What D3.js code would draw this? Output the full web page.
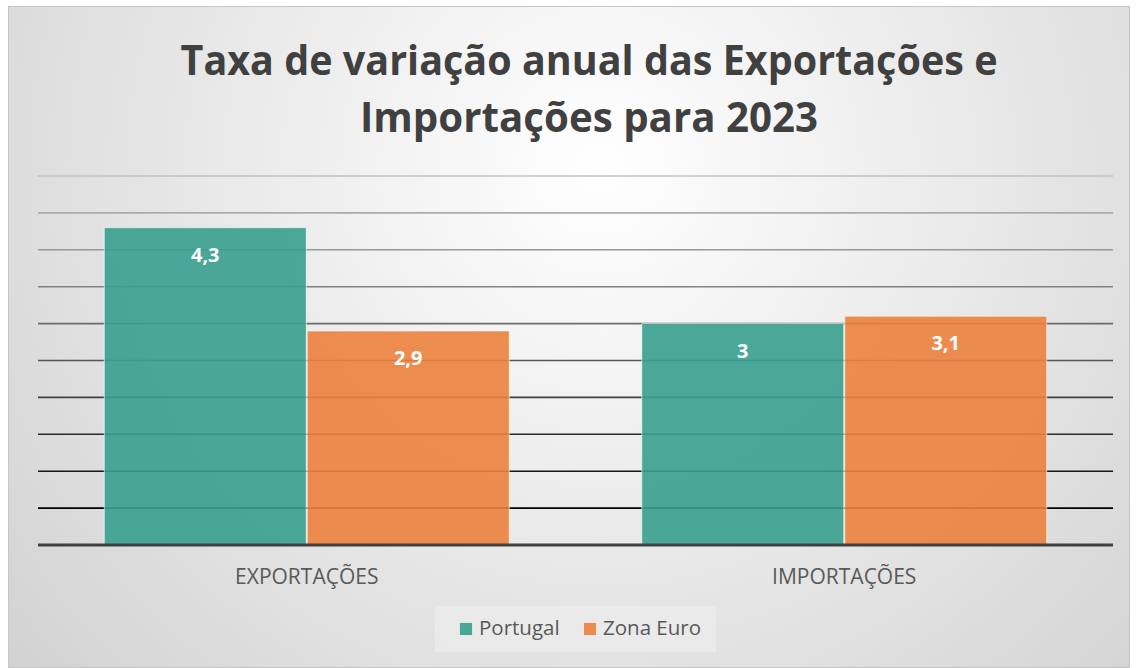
<!DOCTYPE html>
<html><head><meta charset="utf-8">
<script src="https://cdn.jsdelivr.net/npm/d3@7"></script>
<style>html,body{margin:0;padding:0;background:#fff;}svg{display:block;}</style>
</head><body>
<script>
const categories = ["EXPORTAÇÕES", "IMPORTAÇÕES"];
const seriesNames = ["Portugal", "Zona Euro"];
const portugal = [4.3, 3.0];
const zonaEuro = [2.9, 3.1];
const yTicks = [0, 0.5, 1, 1.5, 2, 2.5, 3, 3.5, 4, 4.5, 5];
const titleLines = ["Taxa de variação anual das Exportações e", "Importações para 2023"];
const colors = ["#399e8e", "#eb823d"];

const W = 1136, H = 668;
const svg = d3.select("body").append("svg").attr("width", W).attr("height", H);
const defs = svg.append("defs");
const rg = defs.append("radialGradient").attr("id", "bg")
  .attr("gradientUnits", "userSpaceOnUse").attr("cx", 600).attr("cy", 170).attr("r", 760);
rg.append("stop").attr("offset", 0).attr("stop-color", "#ffffff");
rg.append("stop").attr("offset", 1).attr("stop-color", "#d3d3d3");

svg.append("rect").attr("x", 8.5).attr("y", 6.5).attr("width", 1121).attr("height", 661)
  .attr("fill", "url(#bg)").attr("stroke", "#c6c6c6").attr("stroke-width", 1);

const titleWidths = [817, 458];
const tg = svg.append("g").attr("font-family", "Open Sans, sans-serif").attr("font-weight", "bold")
  .attr("fill", "#404040").attr("text-anchor", "middle").attr("font-size", 42);
tg.selectAll("text").data(titleLines).join("text")
  .attr("x", 589).attr("y", (d, i) => 75 + i * 57)
  .attr("textLength", (d, i) => titleWidths[i]).attr("lengthAdjust", "spacingAndGlyphs")
  .text(d => d);

const plot = {l: 38, r: 1113, t: 176, b: 545};
const y = d3.scaleLinear().domain([0, 5]).range([plot.b, plot.t]);
const x0 = d3.scaleBand().domain(categories).range([plot.l, plot.r]).paddingInner(0).paddingOuter(0);
const x1 = d3.scaleBand().domain(seriesNames).range([0, x0.bandwidth()]).paddingInner(0.005).paddingOuter(0.3265);

const gridColor = d3.scaleLinear().domain([5, 0.5]).range(["#c2c2c2", "#000000"]);
svg.append("g").selectAll("line").data(yTicks.filter(t => t > 0)).join("line")
  .attr("x1", plot.l).attr("x2", plot.r).attr("y1", d => y(d)).attr("y2", d => y(d))
  .attr("stroke", d => gridColor(d)).attr("stroke-width", 1.6);

const rows = categories.map((c, i) => ({cat: c, vals: [portugal[i], zonaEuro[i]]}));
const fmt = v => String(v).replace(".", ",");
const groups = svg.append("g").selectAll("g").data(rows).join("g")
  .attr("transform", d => `translate(${x0(d.cat)},0)`);
groups.selectAll("rect").data(d => d.vals.map((v, j) => ({v, s: seriesNames[j], j}))).join("rect")
  .attr("x", d => x1(d.s)).attr("width", x1.bandwidth())
  .attr("y", d => y(d.v)).attr("height", d => y(0) - y(d.v))
  .attr("fill", d => colors[d.j]).attr("fill-opacity", 0.9)
  .attr("stroke", "#ffffff").attr("stroke-opacity", 0.6).attr("stroke-width", 1);
groups.selectAll("text").data(d => d.vals.map((v, j) => ({v, s: seriesNames[j], j}))).join("text")
  .attr("x", d => x1(d.s) + x1.bandwidth() / 2).attr("y", d => y(d.v) + 34)
  .attr("text-anchor", "middle").attr("font-family", "Open Sans, sans-serif").attr("font-weight", "bold")
  .attr("font-size", 20).attr("fill", "#ffffff").text(d => fmt(d.v));

svg.append("line").attr("x1", plot.l).attr("x2", plot.r).attr("y1", y(0)).attr("y2", y(0))
  .attr("stroke", "#404040").attr("stroke-width", 3);

const xAxis = d3.axisBottom(x0).tickSize(0).tickPadding(0);
const xa = svg.append("g").attr("transform", `translate(0,${y(0)})`).call(xAxis);
xa.select(".domain").remove();
xa.selectAll("text").attr("font-family", "Open Sans, sans-serif").attr("font-size", 21)
  .attr("fill", "#595959").attr("dy", "0").attr("y", 39);

// legend
const lg = svg.append("g");
lg.append("rect").attr("x", 435).attr("y", 606).attr("width", 281).attr("height", 46).attr("fill", "#ececec").attr("fill-opacity", 0.7);
const legX = [459, 583];
seriesNames.forEach((s, i) => {
  lg.append("rect").attr("x", legX[i] + 0.5).attr("y", 622.5).attr("width", 13).attr("height", 13)
    .attr("fill", colors[i]).attr("fill-opacity", 0.9).attr("stroke", "#fff").attr("stroke-opacity", 0.6);
  lg.append("text").attr("x", legX[i] + 20).attr("y", 635).attr("font-family", "Open Sans, sans-serif")
    .attr("font-size", 20.5).attr("fill", "#595959").text(s);
});
</script>
</body></html>
